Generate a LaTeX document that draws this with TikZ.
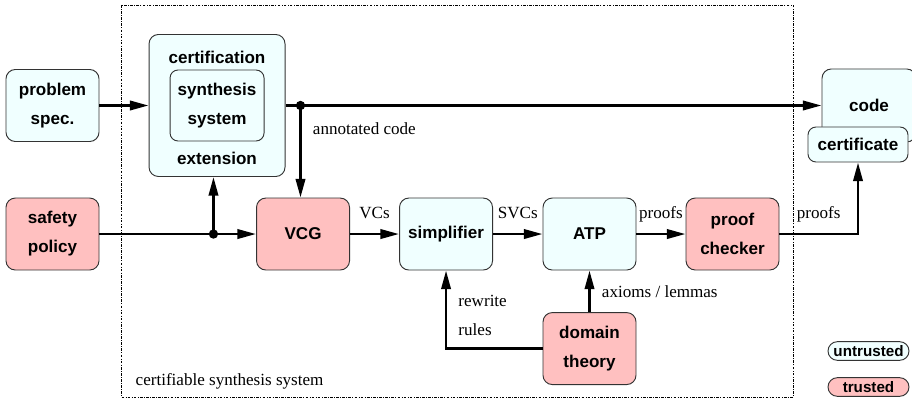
\documentclass[tikz,border=0pt]{standalone}
\usepackage{fontspec}
\setmainfont{Liberation Serif}
\setsansfont{Liberation Sans}
\usetikzlibrary{positioning}
\usetikzlibrary{arrows.meta}
\definecolor{untrustcol}{HTML}{F0FFFF}
\definecolor{trustcol}{HTML}{FFC0C0}
\tikzset{
    boxtext/.style = {font=\fontsize{12.8}{21.75}\selectfont\sffamily\bfseries},
    box/.style = {boxtext, draw=black!80, line width=0.7pt, rounded corners=7pt,
        align=center, minimum width=69.75pt, minimum height=54pt, inner sep=2pt},
    untrusted/.style = {box, fill=untrustcol},
    trusted/.style = {box, fill=trustcol},
    pill/.style = {minimum width=60.75pt, minimum height=14pt, inner sep=0pt,
        rounded corners=7pt, font=\fontsize{11.4}{13}\selectfont\sffamily\bfseries},
    lbl/.style = {font=\fontsize{12.8}{21.75}\selectfont, text depth=0pt},
    flow/.style = {line width=2pt, -{Triangle[length=14pt,width=7pt]}},
    dot/.style = {circle, fill, inner sep=0pt, minimum size=7pt}}

\begin{document}
\begin{tikzpicture}[x=0.75pt, y=-0.75pt, on grid]
    \useasboundingbox (0,0) rectangle (912,402);
    % frame of the certifiable system
    \draw[line width=0.5pt, dash pattern=on 2pt off 1pt on 0.6pt off 1pt]
        (121,5) rectangle (793,397);
    \node[lbl, anchor=west] (frame) at (131,379) {certifiable synthesis system};

    \node[untrusted] (spec) at (52.5,105.5) {problem\\spec.};
    \node[untrusted, minimum width=102pt, minimum height=106.5pt,
        right=123.4pt of spec] (cert) {};
    \node[untrusted, minimum width=70.5pt, minimum height=53.25pt,
        rounded corners=6pt] (synth) at (cert) {synthesis\\system};
    \path (cert.north) ++(0,23) node[boxtext] (certtop) {certification};
    \path (cert.south) ++(0,-19) node[boxtext] (certbot) {extension};

    \node[trusted, below=96.4pt of spec] (safety) {safety\\policy};
    \node[trusted, right=187.9pt of safety] (vcg) {VCG};
    \node[untrusted, right=107.25pt of vcg] (simp) {simplifier};
    \node[untrusted, right=107.6pt of simp] (atp) {ATP};
    \node[trusted, right=107.25pt of atp] (checker) {proof\\checker};
    \node[trusted, below=85.9pt of atp] (domain) {domain\\theory};

    \node[untrusted, minimum width=70.5pt, minimum height=54.75pt] (code)
        at (869,105.5) {code};
    \node[untrusted, minimum width=75pt, minimum height=26.25pt,
        rounded corners=6pt] (certif) at (858,144.5) {certificate};

    % legend
    \node[untrusted, pill] (keyu) at (868.5,351) {untrusted};
    \node[trusted, pill] (keyt) at (868.5,387) {trusted};

    \path (cert.east) ++(15,0) coordinate (split);
    \path (safety.east) ++(114,0) coordinate (join);

    \draw[flow] (spec) -- (cert);
    \draw[flow] (cert.east) -- (cert.east -| code.west);
    \draw[flow] (split) -- node[lbl, pos=0.25, right=5pt] (anncode) {annotated code}
        (split |- vcg.north);
    \draw[flow] (safety) -- (vcg);
    \draw[flow] (join) -- (join |- cert.south);
    \draw[flow] (vcg) -- node[lbl, above=7pt] (vcs) {VCs} (simp);
    \draw[flow] (simp) -- node[lbl, above=7pt] (svcs) {SVCs} (atp);
    \draw[flow] (atp) -- node[lbl, above=7pt] (prf) {proofs} (checker);
    \draw[flow] (checker) -| node[lbl, pos=0.25, above=7pt] (prfout) {proofs} (certif);
    \draw[flow] (domain) -| node[lbl, pos=0.71, right=5pt, align=left] (rules)
        {rewrite\\rules} (simp);
    \draw[flow] (domain) -- node[lbl, right=5pt] (axioms) {axioms / lemmas} (atp);

    \node[dot] (splitdot) at (split) {};
    \node[dot] (joindot) at (join) {};
\end{tikzpicture}
\end{document}
